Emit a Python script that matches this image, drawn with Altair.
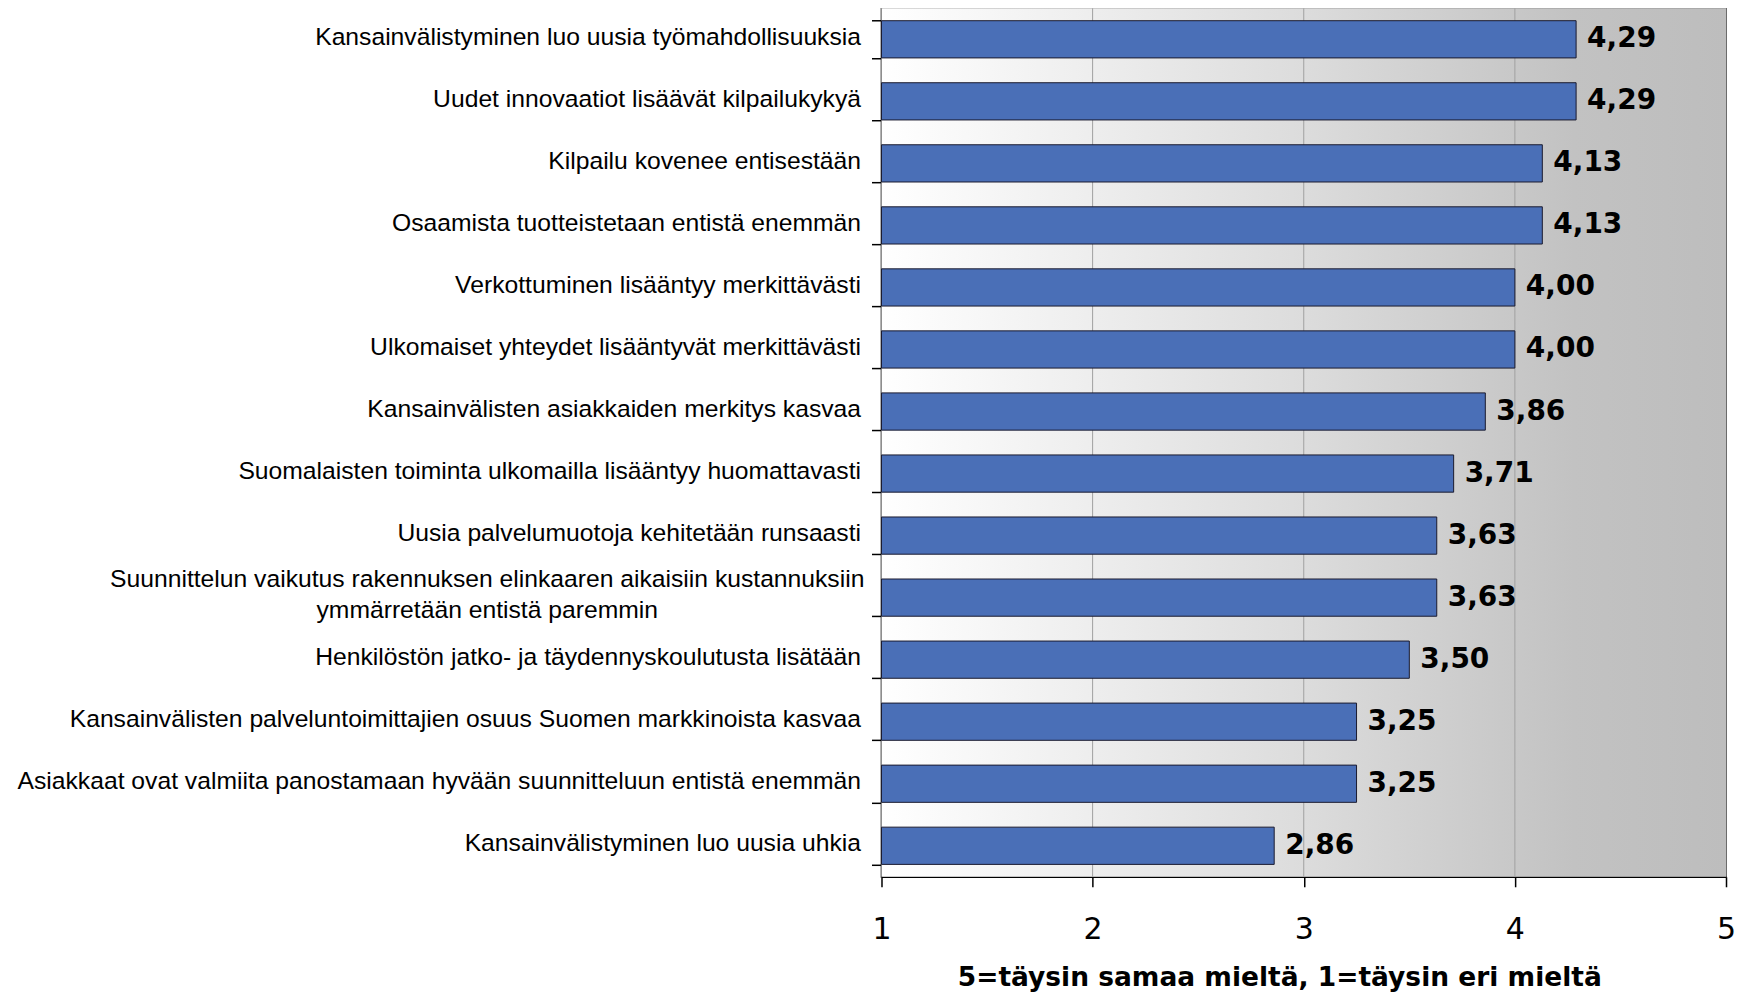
import altair as alt
import pandas as pd

categories = [
    "Kansainvälistyminen luo uusia työmahdollisuuksia",
    "Uudet innovaatiot lisäävät kilpailukykyä",
    "Kilpailu kovenee entisestään",
    "Osaamista tuotteistetaan entistä enemmän",
    "Verkottuminen lisääntyy merkittävästi",
    "Ulkomaiset yhteydet lisääntyvät merkittävästi",
    "Kansainvälisten asiakkaiden merkitys kasvaa",
    "Suomalaisten toiminta ulkomailla lisääntyy huomattavasti",
    "Uusia palvelumuotoja kehitetään runsaasti",
    "Suunnittelun vaikutus rakennuksen elinkaaren aikaisiin kustannuksiin\nymmärretään entistä paremmin",
    "Henkilöstön jatko- ja täydennyskoulutusta lisätään",
    "Kansainvälisten palveluntoimittajien osuus Suomen markkinoista kasvaa",
    "Asiakkaat ovat valmiita panostamaan hyvään suunnitteluun entistä enemmän",
    "Kansainvälistyminen luo uusia uhkia",
]
values = [4.29, 4.29, 4.13, 4.13, 4.00, 4.00, 3.86, 3.71, 3.63, 3.63, 3.50, 3.25, 3.25, 2.86]
value_labels = ["4,29", "4,29", "4,13", "4,13", "4,00", "4,00", "3,86", "3,71",
                "3,63", "3,63", "3,50", "3,25", "3,25", "2,86"]
x_ticks = [1, 2, 3, 4, 5]
grid_values = [2, 3, 4]
x_title = "5=täysin samaa mieltä, 1=täysin eri mieltä"

W, H = 845, 869

df = pd.DataFrame({"item": categories, "value": values, "label": value_labels})
bg_df = pd.DataFrame({"x0": [x_ticks[0]], "x1": [x_ticks[-1]]})
grid_df = pd.DataFrame({"g": grid_values})

xscale = alt.Scale(domain=[1, 5], nice=False, zero=False)

label_font = "Liberation Sans, Arial, sans-serif"
multi = "indexof(datum.label, '\\n') >= 0"

bg = alt.Chart(bg_df).mark_rect(
    color=alt.LinearGradient(
        gradient="linear",
        stops=[
            alt.GradientStop(offset=0, color="#ffffff"),
            alt.GradientStop(offset=0.5, color="#dcdcdc"),
            alt.GradientStop(offset=0.82, color="#c2c2c2"),
            alt.GradientStop(offset=1, color="#bdbdbd"),
        ],
        x1=0, x2=1, y1=0, y2=0,
    )
).encode(
    x=alt.X("x0:Q", scale=xscale,
            axis=alt.Axis(values=x_ticks, grid=False, tickSize=10, tickColor="black",
                          domainColor="black", domainWidth=1.5, tickWidth=1.5,
                          labelFont="DejaVu Sans", labelFontSize=30, labelColor="black",
                          labelPadding=28, labelFlush=False, format="d",
                          title=x_title, titleFont="DejaVu Sans", titleFontWeight="bold",
                          titleFontSize=26.5, titleColor="black", titlePadding=20,
                          titleX=398)),
    x2="x1:Q",
    y=alt.value(0),
    y2=alt.value(H),
)

grid = alt.Chart(grid_df).mark_rule(color="#a0a0a0", strokeWidth=1).encode(
    x=alt.X("g:Q", scale=xscale),
    y=alt.value(0),
    y2=alt.value(H),
)

yenc = alt.Y(
    "item:N",
    sort=categories,
    scale=alt.Scale(paddingInner=0.4, paddingOuter=0.2),
    axis=alt.Axis(
        title=None,
        labelExpr="split(datum.label, '\\n')",
        labelFont=label_font,
        labelFontSize=24.7,
        labelColor="black",
        labelLimit=900,
        labelLineHeight=31,
        labelAlign={"condition": {"test": multi, "value": "center"}, "value": "right"},
        labelPadding={"condition": {"test": multi, "value": 385}, "value": 11},
        labelOffset={"condition": {"test": multi, "value": -18}, "value": -2},
        tickBand="extent",
        tickSize=10,
        tickColor="black",
        tickWidth=1.5,
        domainColor="black",
        domainWidth=1.5,
        grid=False,
    ),
)

bars = alt.Chart(df).mark_bar(color="#4a6fb7", stroke="#1a1a2e", strokeWidth=1).encode(
    x=alt.X("value:Q", scale=xscale),
    x2=alt.datum(1),
    y=yenc,
)

text = alt.Chart(df).mark_text(
    align="left", baseline="middle", dx=11,
    font="DejaVu Sans", fontWeight="bold", fontSize=28, color="black",
).encode(
    x=alt.X("value:Q", scale=xscale),
    y=alt.Y("item:N", sort=categories),
    text="label:N",
)

chart = alt.layer(bg, grid, bars, text).properties(
    width=W,
    height=H,
    autosize=alt.AutoSizeParams(type="none"),
    padding={"left": 874, "top": 0, "right": 10, "bottom": 117},
    background="white",
).configure_view(stroke="#6b6b6b", strokeWidth=2)

chart.save("out.html", embed_options={"renderer": "svg", "actions": False})
